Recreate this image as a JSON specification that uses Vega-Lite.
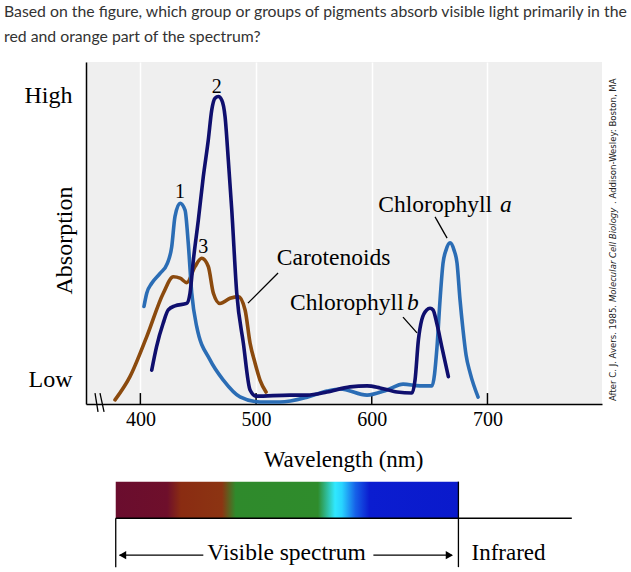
{
  "$schema": "https://vega.github.io/schema/vega-lite/v6.json",
  "width": 516,
  "height": 342,
  "autosize": {"type": "none"},
  "padding": {"left": 86, "top": 62, "right": 29, "bottom": 168},
  "background": "white",
  "config": {
    "view": {"fill": "#efefef", "stroke": null},
    "font": "Liberation Serif"
  },
  "datasets": {
    "question": [
      {"wl": 282.1, "abs": 113.3, "label": "Based on the figure, which group or groups of pigments absorb visible light primarily in the"},
      {"wl": 282.1, "abs": 105.9, "label": "red and orange part of the spectrum?"}
    ],
    "curves": [
      {"p": "Carotenoids", "wl": 378.1, "abs": 1.2},
      {"p": "Carotenoids", "wl": 391.0, "abs": 8.0},
      {"p": "Carotenoids", "wl": 405.5, "abs": 19.7},
      {"p": "Carotenoids", "wl": 419.8, "abs": 32.4},
      {"p": "Carotenoids", "wl": 428.5, "abs": 37.2},
      {"p": "Carotenoids", "wl": 434.3, "abs": 36.8},
      {"p": "Carotenoids", "wl": 440.1, "abs": 35.5},
      {"p": "Carotenoids", "wl": 447.2, "abs": 40.2},
      {"p": "Carotenoids", "wl": 453.0, "abs": 42.6},
      {"p": "Carotenoids", "wl": 458.7, "abs": 40.2},
      {"p": "Carotenoids", "wl": 463.1, "abs": 32.4},
      {"p": "Carotenoids", "wl": 468.8, "abs": 29.4},
      {"p": "Carotenoids", "wl": 477.5, "abs": 30.9},
      {"p": "Carotenoids", "wl": 484.7, "abs": 31.4},
      {"p": "Carotenoids", "wl": 490.5, "abs": 27.5},
      {"p": "Carotenoids", "wl": 494.8, "abs": 17.8},
      {"p": "Carotenoids", "wl": 499.1, "abs": 12.0},
      {"p": "Carotenoids", "wl": 503.4, "abs": 7.0},
      {"p": "Carotenoids", "wl": 508.6, "abs": 3.5},
      {"p": "Chlorophyll a", "wl": 403.1, "abs": 28.5},
      {"p": "Chlorophyll a", "wl": 405.5, "abs": 32.4},
      {"p": "Chlorophyll a", "wl": 409.8, "abs": 35.3},
      {"p": "Chlorophyll a", "wl": 417.0, "abs": 38.2},
      {"p": "Chlorophyll a", "wl": 423.3, "abs": 41.1},
      {"p": "Chlorophyll a", "wl": 427.1, "abs": 46.0},
      {"p": "Chlorophyll a", "wl": 429.9, "abs": 54.8},
      {"p": "Chlorophyll a", "wl": 434.3, "abs": 58.7},
      {"p": "Chlorophyll a", "wl": 438.6, "abs": 56.7},
      {"p": "Chlorophyll a", "wl": 441.4, "abs": 47.0},
      {"p": "Chlorophyll a", "wl": 444.4, "abs": 32.4},
      {"p": "Chlorophyll a", "wl": 448.7, "abs": 22.6},
      {"p": "Chlorophyll a", "wl": 460.2, "abs": 12.9},
      {"p": "Chlorophyll a", "wl": 471.7, "abs": 7.0},
      {"p": "Chlorophyll a", "wl": 486.1, "abs": 2.1},
      {"p": "Chlorophyll a", "wl": 503.4, "abs": 0.6},
      {"p": "Chlorophyll a", "wl": 520.7, "abs": 0.6},
      {"p": "Chlorophyll a", "wl": 544.1, "abs": 2.0},
      {"p": "Chlorophyll a", "wl": 561.3, "abs": 3.8},
      {"p": "Chlorophyll a", "wl": 572.6, "abs": 4.4},
      {"p": "Chlorophyll a", "wl": 595.9, "abs": 2.6},
      {"p": "Chlorophyll a", "wl": 613.2, "abs": 4.1},
      {"p": "Chlorophyll a", "wl": 627.1, "abs": 5.8},
      {"p": "Chlorophyll a", "wl": 641.7, "abs": 5.3},
      {"p": "Chlorophyll a", "wl": 652.1, "abs": 5.3},
      {"p": "Chlorophyll a", "wl": 656.4, "abs": 16.7},
      {"p": "Chlorophyll a", "wl": 659.0, "abs": 30.4},
      {"p": "Chlorophyll a", "wl": 661.6, "abs": 41.2},
      {"p": "Chlorophyll a", "wl": 664.2, "abs": 45.0},
      {"p": "Chlorophyll a", "wl": 667.7, "abs": 47.1},
      {"p": "Chlorophyll a", "wl": 671.1, "abs": 45.0},
      {"p": "Chlorophyll a", "wl": 673.7, "abs": 41.2},
      {"p": "Chlorophyll a", "wl": 676.3, "abs": 30.4},
      {"p": "Chlorophyll a", "wl": 678.9, "abs": 21.6},
      {"p": "Chlorophyll a", "wl": 681.5, "abs": 14.3},
      {"p": "Chlorophyll a", "wl": 685.0, "abs": 9.1},
      {"p": "Chlorophyll a", "wl": 691.9, "abs": 2.0},
      {"p": "Chlorophyll b", "wl": 409.8, "abs": 9.9},
      {"p": "Chlorophyll b", "wl": 414.0, "abs": 16.8},
      {"p": "Chlorophyll b", "wl": 419.7, "abs": 23.6},
      {"p": "Chlorophyll b", "wl": 424.1, "abs": 27.5},
      {"p": "Chlorophyll b", "wl": 429.9, "abs": 28.7},
      {"p": "Chlorophyll b", "wl": 440.0, "abs": 29.4},
      {"p": "Chlorophyll b", "wl": 442.9, "abs": 32.4},
      {"p": "Chlorophyll b", "wl": 445.8, "abs": 42.1},
      {"p": "Chlorophyll b", "wl": 450.1, "abs": 53.8},
      {"p": "Chlorophyll b", "wl": 454.4, "abs": 66.5},
      {"p": "Chlorophyll b", "wl": 458.7, "abs": 77.2},
      {"p": "Chlorophyll b", "wl": 461.7, "abs": 86.0},
      {"p": "Chlorophyll b", "wl": 464.5, "abs": 89.4},
      {"p": "Chlorophyll b", "wl": 467.4, "abs": 89.9},
      {"p": "Chlorophyll b", "wl": 470.3, "abs": 88.9},
      {"p": "Chlorophyll b", "wl": 473.2, "abs": 84.0},
      {"p": "Chlorophyll b", "wl": 476.0, "abs": 71.4},
      {"p": "Chlorophyll b", "wl": 479.0, "abs": 56.7},
      {"p": "Chlorophyll b", "wl": 483.3, "abs": 32.4},
      {"p": "Chlorophyll b", "wl": 489.0, "abs": 17.8},
      {"p": "Chlorophyll b", "wl": 494.8, "abs": 4.1},
      {"p": "Chlorophyll b", "wl": 500.0, "abs": 2.3},
      {"p": "Chlorophyll b", "wl": 529.4, "abs": 2.6},
      {"p": "Chlorophyll b", "wl": 544.1, "abs": 2.6},
      {"p": "Chlorophyll b", "wl": 561.3, "abs": 3.5},
      {"p": "Chlorophyll b", "wl": 581.2, "abs": 5.0},
      {"p": "Chlorophyll b", "wl": 595.9, "abs": 5.3},
      {"p": "Chlorophyll b", "wl": 607.2, "abs": 4.7},
      {"p": "Chlorophyll b", "wl": 621.9, "abs": 3.5},
      {"p": "Chlorophyll b", "wl": 634.8, "abs": 3.2},
      {"p": "Chlorophyll b", "wl": 637.4, "abs": 7.0},
      {"p": "Chlorophyll b", "wl": 640.3, "abs": 18.7},
      {"p": "Chlorophyll b", "wl": 643.2, "abs": 24.6},
      {"p": "Chlorophyll b", "wl": 647.5, "abs": 27.5},
      {"p": "Chlorophyll b", "wl": 650.4, "abs": 28.0},
      {"p": "Chlorophyll b", "wl": 653.0, "abs": 27.5},
      {"p": "Chlorophyll b", "wl": 656.2, "abs": 23.6},
      {"p": "Chlorophyll b", "wl": 660.5, "abs": 16.8},
      {"p": "Chlorophyll b", "wl": 666.2, "abs": 8.0}
    ],
    "ticks": [
      {"wl": 400, "abs": 0, "abs2": 3.2},
      {"wl": 500, "abs": 0, "abs2": 3.2},
      {"wl": 600, "abs": 0, "abs2": 3.2},
      {"wl": 700, "abs": 0, "abs2": 3.2}
    ],
    "breaks": [
      {"wl": 360.8, "abs": 3.2, "wl2": 363.4, "abs2": -2.3},
      {"wl": 365.1, "abs": 3.2, "wl2": 368.6, "abs2": -2.3}
    ],
    "leaders": [
      {"wl": 519.0, "abs": 38.3, "wl2": 493.0, "abs2": 29.5},
      {"wl": 654.7, "abs": 54.7, "wl2": 665.1, "abs2": 48.5},
      {"wl": 627.0, "abs": 25.4, "wl2": 639.1, "abs2": 20.8}
    ],
    "peaks": [
      {"wl": 434.3, "abs": 62.1, "label": "1"},
      {"wl": 466.0, "abs": 92.8, "label": "2"},
      {"wl": 454.4, "abs": 46.0, "label": "3"}
    ],
    "names": [
      {"wl": 517.9, "abs": 40.6, "label": "Carotenoids"},
      {"wl": 605.7, "abs": 56.2, "label": "Chlorophyll"},
      {"wl": 529.4, "abs": 27.5, "label": "Chlorophyll"}
    ],
    "italics": [
      {"wl": 710.9, "abs": 56.2, "label": "a"},
      {"wl": 630.5, "abs": 27.5, "label": "b"}
    ],
    "spectrum": [
      {"wl": 378.7, "wl2": 674.9, "abs": -22.7, "abs2": -33.4}
    ],
    "frame": [
      {"wl": 378.7, "abs": -33.4, "wl2": 772.9, "abs2": -33.4},
      {"wl": 378.7, "abs": -33.4, "wl2": 378.7, "abs2": -47.7},
      {"wl": 674.9, "abs": -22.7, "wl2": 674.9, "abs2": -47.7},
      {"wl": 382.0, "abs": -44.2, "wl2": 454.4, "abs2": -44.2},
      {"wl": 601.4, "abs": -44.2, "wl2": 669.0, "abs2": -44.2}
    ],
    "arrowL": [{"wl": 384.6, "abs": -44.2}],
    "arrowR": [{"wl": 667.1, "abs": -44.2}],
    "spectext": [{"wl": 526.4, "abs": -45.6, "label": "Visible spectrum"}],
    "infra": [{"wl": 686.2, "abs": -45.6, "label": "Infrared"}],
    "credit": [
      {"wl": 808.2, "abs": 0.9, "label": "After C. J. Avers. 1985."},
      {"wl": 808.2, "abs": 58.5, "label": ". Addison-Wesley: Boston, MA"}
    ],
    "creditItalic": [
      {"wl": 808.2, "abs": 29.8, "label": "Molecular Cell Biology"}
    ]
  },
  "encoding": {
    "x": {
      "field": "wl",
      "type": "quantitative",
      "scale": {"domain": [353, 799], "nice": false, "zero": false},
      "axis": {
        "values": [400, 500, 600, 700],
        "title": "Wavelength (nm)",
        "grid": true,
        "gridColor": "white",
        "gridWidth": 1.5,
        "gridOpacity": 1,
        "ticks": false,
        "tickSize": 0,
        "domain": true,
        "domainColor": "black",
        "domainWidth": 1.5,
        "labelFont": "Liberation Serif",
        "labelFontSize": 20,
        "labelColor": "black",
        "labelPadding": 5,
        "titleFont": "Liberation Serif",
        "titleFontSize": 23,
        "titleFontWeight": "normal",
        "titleColor": "black",
        "titleBaseline": "alphabetic",
        "titleY": 62,
        "titleX": 257
      }
    },
    "y": {
      "field": "abs",
      "type": "quantitative",
      "scale": {"domain": [0, 100], "nice": false, "zero": false},
      "axis": {
        "values": [90.35, 7.02],
        "labelExpr": "datum.value > 50 ? 'High' : 'Low'",
        "title": "Absorption",
        "grid": false,
        "ticks": false,
        "tickSize": 0,
        "domain": true,
        "domainColor": "black",
        "domainWidth": 1.5,
        "labelFont": "Liberation Serif",
        "labelFontSize": 24,
        "labelColor": "black",
        "labelPadding": 14,
        "titleFont": "Liberation Serif",
        "titleFontSize": 24,
        "titleFontWeight": "normal",
        "titleColor": "black",
        "titleAngle": 270,
        "titleAlign": "center",
        "titleBaseline": "middle",
        "titleX": -22,
        "titleY": 178
      }
    }
  },
  "layer": [
    {
      "data": {"name": "ticks"},
      "mark": {"type": "rule", "color": "black", "strokeWidth": 1.5, "clip": false},
      "encoding": {"y2": {"field": "abs2"}}
    },
    {
      "data": {"name": "breaks"},
      "mark": {"type": "rule", "color": "black", "strokeWidth": 1.3, "clip": false},
      "encoding": {"x2": {"field": "wl2"}, "y2": {"field": "abs2"}}
    },
    {
      "data": {"name": "curves"},
      "mark": {"type": "line", "interpolate": "monotone", "strokeWidth": 3.6, "clip": false, "strokeCap": "round"},
      "encoding": {
        "color": {
          "field": "p",
          "type": "nominal",
          "scale": {"domain": ["Carotenoids", "Chlorophyll a", "Chlorophyll b"], "range": ["#8b4a0e", "#2b6db5", "#0f0f6e"]},
          "legend": null
        }
      }
    },
    {
      "data": {"name": "leaders"},
      "mark": {"type": "rule", "color": "black", "strokeWidth": 1.3, "clip": false},
      "encoding": {"x2": {"field": "wl2"}, "y2": {"field": "abs2"}}
    },
    {
      "data": {"name": "peaks"},
      "mark": {"type": "text", "font": "Liberation Serif", "fontSize": 20, "color": "black", "align": "center", "baseline": "middle", "clip": false},
      "encoding": {"text": {"field": "label"}}
    },
    {
      "data": {"name": "names"},
      "mark": {"type": "text", "font": "Liberation Serif", "fontSize": 23.5, "color": "black", "align": "left", "baseline": "alphabetic", "clip": false},
      "encoding": {"text": {"field": "label"}}
    },
    {
      "data": {"name": "italics"},
      "mark": {"type": "text", "font": "Liberation Serif", "fontSize": 23.5, "fontStyle": "italic", "color": "black", "align": "left", "baseline": "alphabetic", "clip": false},
      "encoding": {"text": {"field": "label"}}
    },
    {
      "data": {"name": "spectrum"},
      "mark": {
        "type": "rect",
        "clip": false,
        "color": {
          "gradient": "linear",
          "x1": 0, "x2": 1, "y1": 0, "y2": 0,
          "stops": [
            {"offset": 0, "color": "#6a0d2e"},
            {"offset": 0.15, "color": "#6e0f2b"},
            {"offset": 0.19, "color": "#8a2c12"},
            {"offset": 0.31, "color": "#8c3412"},
            {"offset": 0.35, "color": "#2f8a2c"},
            {"offset": 0.59, "color": "#2f8c2c"},
            {"offset": 0.64, "color": "#30e8ff"},
            {"offset": 0.66, "color": "#28d4ff"},
            {"offset": 0.70, "color": "#1660e8"},
            {"offset": 0.74, "color": "#0b1dd0"},
            {"offset": 1, "color": "#0a1acc"}
          ]
        }
      },
      "encoding": {"x2": {"field": "wl2"}, "y2": {"field": "abs2"}}
    },
    {
      "data": {"name": "frame"},
      "mark": {"type": "rule", "color": "black", "strokeWidth": 1.3, "clip": false},
      "encoding": {"x2": {"field": "wl2"}, "y2": {"field": "abs2"}}
    },
    {
      "data": {"name": "arrowL"},
      "mark": {"type": "point", "shape": "triangle-left", "filled": true, "color": "black", "size": 70, "opacity": 1, "clip": false}
    },
    {
      "data": {"name": "arrowR"},
      "mark": {"type": "point", "shape": "triangle-right", "filled": true, "color": "black", "size": 70, "opacity": 1, "clip": false}
    },
    {
      "data": {"name": "spectext"},
      "mark": {"type": "text", "font": "Liberation Serif", "fontSize": 23.5, "color": "black", "align": "center", "baseline": "alphabetic", "clip": false},
      "encoding": {"text": {"field": "label"}}
    },
    {
      "data": {"name": "infra"},
      "mark": {"type": "text", "font": "Liberation Serif", "fontSize": 23, "color": "black", "align": "left", "baseline": "alphabetic", "clip": false},
      "encoding": {"text": {"field": "label"}}
    },
    {
      "data": {"name": "credit"},
      "mark": {"type": "text", "font": "Liberation Sans Narrow, DejaVu Sans Condensed, sans-serif", "fontSize": 9.5, "color": "#222222", "align": "left", "baseline": "middle", "angle": 270, "clip": false},
      "encoding": {"text": {"field": "label"}}
    },
    {
      "data": {"name": "creditItalic"},
      "mark": {"type": "text", "font": "Liberation Sans Narrow, DejaVu Sans Condensed, sans-serif", "fontSize": 9.5, "fontStyle": "italic", "color": "#222222", "align": "left", "baseline": "middle", "angle": 270, "clip": false},
      "encoding": {"text": {"field": "label"}}
    },
    {
      "data": {"name": "question"},
      "mark": {"type": "text", "font": "Lato", "fontSize": 15.8, "color": "#333333", "align": "left", "baseline": "alphabetic", "clip": false},
      "encoding": {"text": {"field": "label"}}
    }
  ]
}
